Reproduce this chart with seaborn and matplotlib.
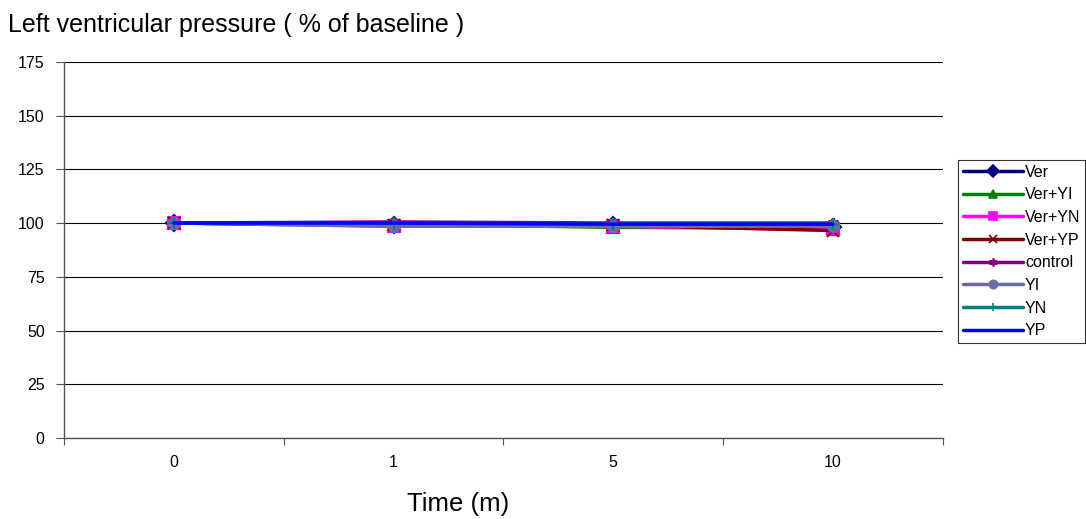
import numpy as np
import pandas as pd
import matplotlib.pyplot as plt
import seaborn as sns

# data
times = ["0", "1", "5", "10"]
ver = [100, 99.0, 99.0, 98.0]
ver_yi = [100, 99.5, 98.0, 97.5]
ver_yn = [100, 98.5, 98.5, 97.0]
ver_yp = [100, 99.0, 99.0, 96.5]
control = [100, 100.5, 100.0, 100.0]
yi = [100, 98.5, 98.5, 98.5]
yn = [100, 100.0, 99.5, 99.5]
yp = [100, 100.0, 99.5, 99.5]
groups = ["Ver", "Ver+YI", "Ver+YN", "Ver+YP", "control", "YI", "YN", "YP"]
series = [ver, ver_yi, ver_yn, ver_yp, control, yi, yn, yp]

palette = {"Ver": "#000080", "Ver+YI": "#008000", "Ver+YN": "#FF00FF",
           "Ver+YP": "#800000", "control": "#800080", "YI": "#6B6BA8",
           "YN": "#008080", "YP": "#0000FF"}
markers = {"Ver": "D", "Ver+YI": "^", "Ver+YN": "s", "Ver+YP": "x",
           "control": (6, 2, 0), "YI": "o", "YN": "+", "YP": ""}

rows = []
for g, vals in zip(groups, series):
    for i, v in enumerate(vals):
        rows.append({"pos": i, "value": v, "group": g})
df = pd.DataFrame(rows)

sns.set_style("white")
plt.rcParams['font.family'] = ['Liberation Sans', 'DejaVu Sans']
plt.rcParams['text.color'] = 'black'
plt.rcParams['xtick.labelcolor'] = 'black'
plt.rcParams['ytick.labelcolor'] = 'black'

fig = plt.figure(figsize=(10.86, 5.19), dpi=100)
ax = fig.add_axes([0.059, 0.156, 0.809, 0.725])

for g in groups:
    sub = df[df["group"] == g]
    sns.lineplot(data=sub, x="pos", y="value", color=palette[g],
                 marker=markers[g] if markers[g] else None, linewidth=2.5,
                 markersize=8, markeredgewidth=1.5, markeredgecolor=palette[g],
                 ax=ax, legend=False, zorder=3)

ax.set_xlim(-0.5, len(times) - 0.5)
ax.set_ylim(0, 175)
ax.set_yticks(np.arange(0, 176, 25))
ax.set_xticks(np.arange(-0.5, len(times), 1.0))
ax.set_xticklabels([])
ax.set_xticks(np.arange(len(times)), minor=True)
ax.set_xticklabels(times, minor=True)
ax.tick_params(axis="x", which="minor", length=0, pad=12, labelsize=11.5)
ax.tick_params(axis="x", which="major", length=5, direction="out", color="#555555")
ax.tick_params(axis="y", length=6, direction="out", labelsize=11.5, color="#555555", pad=8)
ax.xaxis.set_ticks_position("bottom")
ax.yaxis.set_ticks_position("left")
ax.grid(axis="y", color="black", linewidth=0.8)
ax.grid(axis="x", visible=False)
for s in ["top", "right"]:
    ax.spines[s].set_visible(False)
for s in ["left", "bottom"]:
    ax.spines[s].set_color("#555555")
    ax.spines[s].set_linewidth(1.0)

ax.set_xlabel("")
ax.set_ylabel("")
fig.text(0.422, 0.029, "Time (m)", fontsize=18.5, ha="center", va="center")
fig.text(0.007, 0.952, "Left ventricular pressure ( % of baseline )", fontsize=18,
         ha="left", va="center")

handles = []
for g in groups:
    h, = ax.plot([], [], color=palette[g], marker=markers[g] if markers[g] else None,
                 linewidth=2.5, markersize=6, markeredgewidth=1.2)
    handles.append(h)
leg = fig.legend(handles, groups, loc="upper left", bbox_to_anchor=(0.882, 0.692),
                 frameon=True, fontsize=11.5, handlelength=3.8, handletextpad=0.1,
                 labelspacing=0.48, borderpad=0.3, borderaxespad=0, fancybox=False)
leg.get_frame().set_edgecolor("black")
leg.get_frame().set_linewidth(0.8)

fig.savefig("out.png", dpi=100)
